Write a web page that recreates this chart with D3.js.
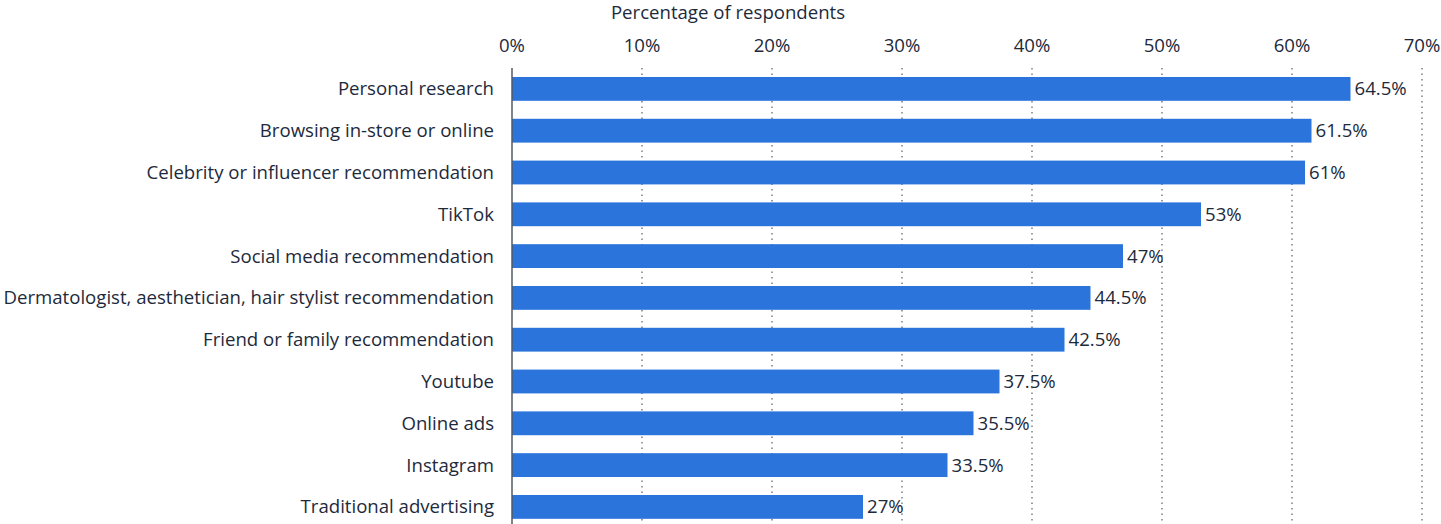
<!DOCTYPE html>
<html>
<head>
<meta charset="utf-8">
<script src="https://cdn.jsdelivr.net/npm/d3@7"></script>
<style>
  html, body { margin: 0; padding: 0; background: #fff; }
  svg { display: block; }
  text { font-family: "Open Sans", sans-serif; fill: #1d2a3b; }
</style>
</head>
<body>
<svg id="chart" width="1441" height="524"></svg>
<script>
const categories = [
  "Personal research",
  "Browsing in-store or online",
  "Celebrity or influencer recommendation",
  "TikTok",
  "Social media recommendation",
  "Dermatologist, aesthetician, hair stylist recommendation",
  "Friend or family recommendation",
  "Youtube",
  "Online ads",
  "Instagram",
  "Traditional advertising"
];
const values = [64.5, 61.5, 61, 53, 47, 44.5, 42.5, 37.5, 35.5, 33.5, 27];
const ticks = [0, 10, 20, 30, 40, 50, 60, 70];
const axisTitle = "Percentage of respondents";

const svg = d3.select("#chart");
const plotLeft = 512, plotRight = 1422, plotTop = 68;
const step = 41.8;
const fontSize = 18.6;

const x = d3.scaleLinear().domain([0, 70]).range([plotLeft, plotRight]);
const y = d3.scaleBand()
  .domain(categories)
  .range([plotTop, plotTop + step * categories.length])
  .paddingInner(0.43)
  .paddingOuter(0.215);

// dotted vertical gridlines
svg.append("g")
  .selectAll("line")
  .data(ticks.filter(t => t > 0))
  .join("line")
  .attr("x1", d => x(d)).attr("x2", d => x(d))
  .attr("y1", plotTop).attr("y2", 524)
  .attr("stroke", "#5a5f66")
  .attr("stroke-width", 1.2)
  .attr("stroke-dasharray", "1.5,4");

// top axis tick labels
svg.append("g")
  .selectAll("text")
  .data(ticks)
  .join("text")
  .attr("x", d => x(d))
  .attr("y", 52)
  .attr("text-anchor", "middle")
  .attr("font-size", fontSize)
  .text(d => d + "%");

// axis title
svg.append("text")
  .attr("x", 728)
  .attr("y", 19)
  .attr("text-anchor", "middle")
  .attr("font-size", fontSize)
  .text(axisTitle);

// bars
svg.append("g")
  .selectAll("rect")
  .data(values)
  .join("rect")
  .attr("x", x(0))
  .attr("y", (d, i) => y(categories[i]))
  .attr("width", d => x(d) - x(0))
  .attr("height", y.bandwidth())
  .attr("fill", "#2a74dc");

// baseline
svg.append("line")
  .attr("x1", plotLeft).attr("x2", plotLeft)
  .attr("y1", plotTop).attr("y2", 524)
  .attr("stroke", "#555b63")
  .attr("stroke-width", 1.5);

// category labels
svg.append("g")
  .selectAll("text")
  .data(categories)
  .join("text")
  .attr("x", plotLeft - 18)
  .attr("y", d => y(d) + y.bandwidth() / 2)
  .attr("dy", "0.35em")
  .attr("text-anchor", "end")
  .attr("font-size", fontSize)
  .text(d => d);

// value labels
svg.append("g")
  .selectAll("text")
  .data(values)
  .join("text")
  .attr("x", d => x(d) + 4)
  .attr("y", (d, i) => y(categories[i]) + y.bandwidth() / 2)
  .attr("dy", "0.35em")
  .attr("font-size", fontSize)
  .text(d => d + "%");
</script>
</body>
</html>
